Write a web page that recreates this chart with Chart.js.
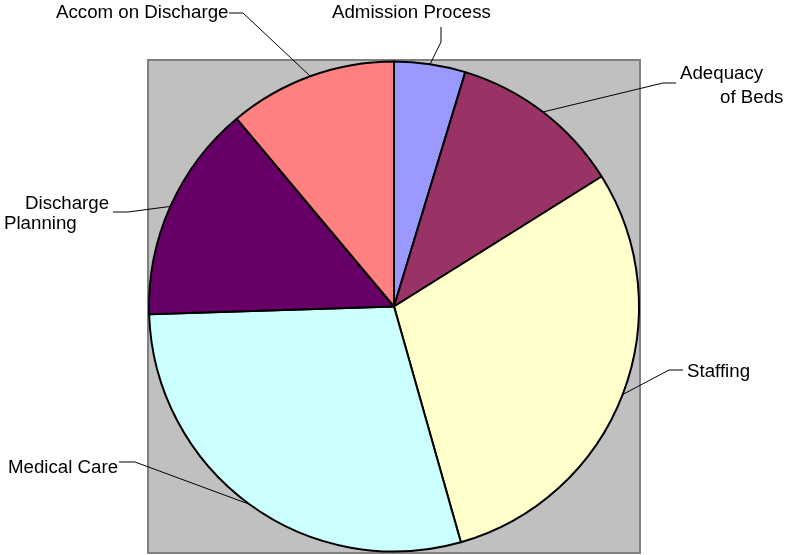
<!DOCTYPE html>
<html>
<head>
<meta charset="utf-8">
<script src="https://cdn.jsdelivr.net/npm/chart.js@4"></script>
<style>
  html, body { margin: 0; padding: 0; background: #fff; }
  #wrap { width: 785px; height: 555px; position: relative; }
</style>
</head>
<body>
<div id="wrap"><canvas id="pie"></canvas></div>
<script>
const categories = ['Admission Process', 'Adequacy of Beds', 'Staffing', 'Medical Care', 'Discharge Planning', 'Accom on Discharge'];
const shares = [4.7, 11.4, 29.5, 28.9, 14.4, 11.1];
const sliceColors = ['#9999FF', '#993366', '#FFFFCC', '#CCFFFF', '#660066', '#FF8080'];

// where each label sits and how its leader line bends (text lines, text pos, elbow points)
const labelLayout = [
    { lines: ['Admission Process'], x: 332, y: 18, path: [[441, 27], [441, 42]] },
    { lines: ['Adequacy', 'of Beds'], x: [680, 720], y: [79, 103], path: [[676, 83], [663, 83]] },
    { lines: ['Staffing'], x: 687, y: 377, path: [[683, 370], [669, 370]] },
    { lines: ['Medical Care'], x: 8, y: 473, path: [[119, 462], [135, 462]] },
    { lines: ['Discharge', 'Planning'], x: [25, 4], y: [209, 229], path: [[113, 212], [128, 212]] },
    { lines: ['Accom on Discharge'], x: 56, y: 18, path: [[229, 13], [243, 13]] }
];

const plotBg = {
    id: 'plotBg',
    beforeDraw(chart) {
        const { ctx, chartArea: a } = chart;
        ctx.save();
        ctx.fillStyle = '#C0C0C0';
        ctx.fillRect(a.left, a.top, a.right - a.left, a.bottom - a.top);
        ctx.strokeStyle = '#808080';
        ctx.lineWidth = 2;
        ctx.strokeRect(a.left, a.top, a.right - a.left, a.bottom - a.top);
        ctx.restore();
    }
};

const leaderLabels = {
    id: 'leaderLabels',
    afterDraw(chart) {
        const ctx = chart.ctx;
        const arcs = chart.getDatasetMeta(0).data;
        ctx.save();
        ctx.font = '18.7px "Liberation Sans", Arial, sans-serif';
        ctx.fillStyle = '#000';
        ctx.strokeStyle = '#000';
        ctx.lineWidth = 1;
        ctx.textBaseline = 'alphabetic';
        arcs.forEach((arc, i) => {
            const L = labelLayout[i];
            const p = arc.getProps(['x', 'y', 'startAngle', 'endAngle', 'outerRadius'], true);
            const mid = (p.startAngle + p.endAngle) / 2;
            const ax = p.x + Math.cos(mid) * p.outerRadius;
            const ay = p.y + Math.sin(mid) * p.outerRadius;
            ctx.beginPath();
            ctx.moveTo(L.path[0][0], L.path[0][1]);
            for (let k = 1; k < L.path.length; k++) ctx.lineTo(L.path[k][0], L.path[k][1]);
            ctx.lineTo(ax, ay);
            ctx.stroke();
            L.lines.forEach((t, k) => {
                const tx = Array.isArray(L.x) ? L.x[k] : L.x;
                const ty = Array.isArray(L.y) ? L.y[k] : L.y;
                ctx.fillText(t, tx, ty);
            });
        });
        ctx.restore();
    }
};

new Chart(document.getElementById('pie'), {
    type: 'pie',
    data: {
        labels: categories,
        datasets: [{
            data: shares,
            backgroundColor: sliceColors,
            borderColor: '#000',
            borderWidth: 2,
            borderAlign: 'center'
        }]
    },
    options: {
        responsive: true,
        maintainAspectRatio: false,
        animation: false,
        layout: { padding: { left: 148, right: 145, top: 60, bottom: 2 } },
        plugins: {
            legend: { display: false },
            tooltip: { enabled: false }
        }
    },
    plugins: [plotBg, leaderLabels]
});
</script>
</body>
</html>
